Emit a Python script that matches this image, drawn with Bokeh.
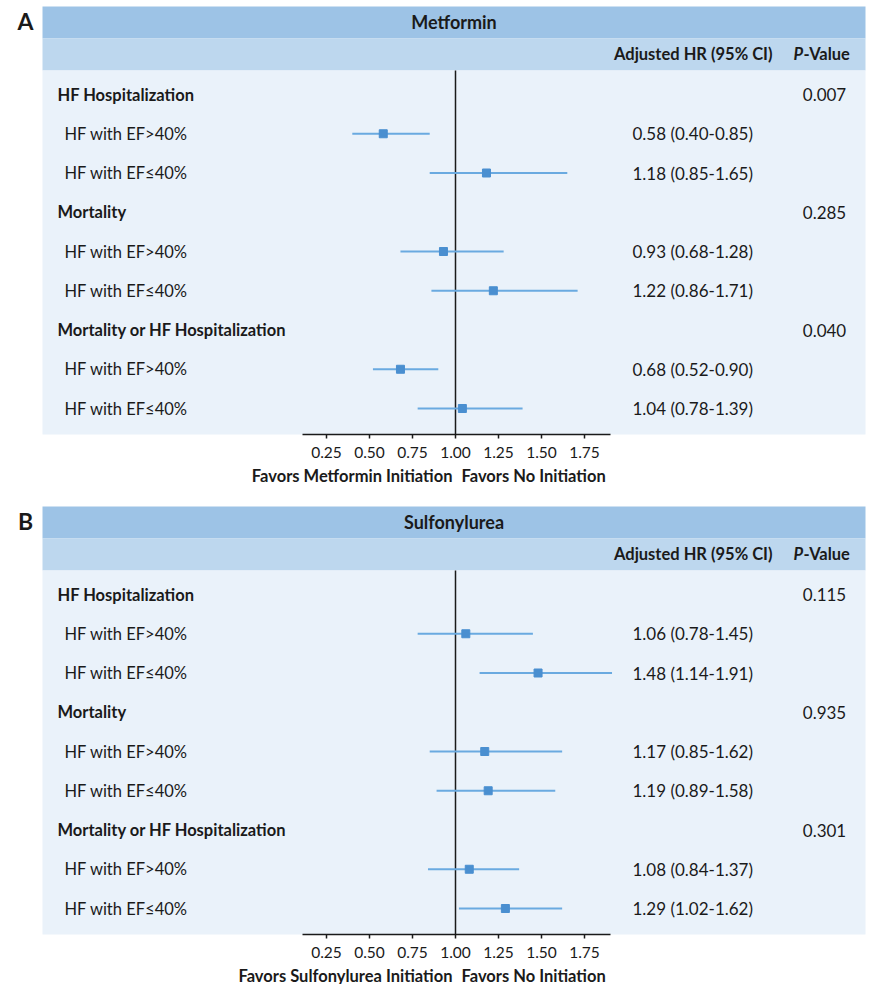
from bokeh.plotting import figure
from bokeh.models import Range1d, FixedTicker
from bokeh.layouts import column
from bokeh.embed import file_html
from bokeh.resources import INLINE
from bokeh.core.properties import value

# ---------------- data ----------------
outcomes = ["HF Hospitalization", "Mortality", "Mortality or HF Hospitalization"]
subgroups = ["HF with EF>40%", "HF with EF\u226440%"]

met_hr = [0.58, 1.18, 0.93, 1.22, 0.68, 1.04]
met_lo = [0.40, 0.85, 0.68, 0.86, 0.52, 0.78]
met_hi = [0.85, 1.65, 1.28, 1.71, 0.90, 1.39]
met_p = ["0.007", "0.285", "0.040"]

sul_hr = [1.06, 1.48, 1.17, 1.19, 1.08, 1.29]
sul_lo = [0.78, 1.14, 0.85, 0.89, 0.84, 1.02]
sul_hi = [1.45, 1.91, 1.62, 1.58, 1.37, 1.62]
sul_p = ["0.115", "0.935", "0.301"]

tick_values = [0.25, 0.50, 0.75, 1.00, 1.25, 1.50, 1.75]
tick_labels = ["0.25", "0.50", "0.75", "1.00", "1.25", "1.50", "1.75"]
null_hr = 1.0
axis_bounds = (0.11, 1.90)

# ---------------- style / layout ----------------
FONT = "Lato"
TXT = "#1a1a1a"
C_TITLE = "#9dc3e6"
C_SUB = "#bdd7ee"
C_BODY = "#eaf2fa"
C_MARK = "#4a8fd0"
C_CI = "#6aaae0"

FIG_W = 872
PX_LEFT, PX_RIGHT = 0, 872
ONE_PX = 455.0                      # page x of HR=1
PX_PER_UNIT = 172.0
ROW_STEP = 39.25
BAND_L, BAND_R = 42, 865


def hr_at(px):
    return (px - ONE_PX) / PX_PER_UNIT + 1.0


def txt(p, x, y, text, size, style="normal", align="left", py=False):
    kw = dict(x_range_name="px", text_font=value(FONT), text_font_style=style,
              text_font_size=size, text_align=align, text_baseline="middle",
              text_color=TXT)
    if py:
        kw["y_range_name"] = "py"
    p.text(x=x, y=y, text=text, **kw)


def make_panel(letter, drug, hr, lo, hi, pvals, left_label, fig_top, fig_bottom, T):
    axis_y = T + 428
    row0 = T + 88
    height = fig_bottom - fig_top

    p = figure(width=FIG_W, height=height,
               x_range=Range1d(hr_at(PX_LEFT), hr_at(PX_RIGHT)),
               y_range=Range1d((fig_bottom - row0) / ROW_STEP, (fig_top - row0) / ROW_STEP),
               toolbar_location=None, output_backend="svg",
               y_axis_location=None, x_axis_location="below",
               min_border=0, outline_line_color=None,
               background_fill_color="white", border_fill_color="white")
    p.extra_x_ranges = {"px": Range1d(PX_LEFT, PX_RIGHT)}
    p.extra_y_ranges = {"py": Range1d(fig_bottom, fig_top)}
    p.xgrid.visible = False
    p.ygrid.visible = False

    # bands
    p.quad(left=[BAND_L] * 3, right=[BAND_R] * 3,
           top=[T, T + 32, T + 64],
           bottom=[T + 32, T + 64, axis_y],
           fill_color=[C_TITLE, C_SUB, C_BODY], line_color=None,
           x_range_name="px", y_range_name="py")

    # letter + titles
    txt(p, [25], [T + 14], [letter], "23px", "bold", "center", py=True)
    txt(p, [(BAND_L + BAND_R) / 2], [T + 15], [drug], "18px", "bold", "center", py=True)
    txt(p, [772], [T + 47], ["Adjusted HR (95% CI)"], "16.5px", "bold", "right", py=True)
    txt(p, [793], [T + 47], ["P"], "16.5px", "bold italic", "left", py=True)
    txt(p, [803], [T + 47], ["-Value"], "16.5px", "bold", "left", py=True)

    # row layout
    head_y, sub_y, sub_lab = [], [], []
    r = 0
    for o in outcomes:
        head_y.append(r)
        r += 1
        for s in subgroups:
            sub_y.append(r)
            sub_lab.append(s)
            r += 1

    # reference line
    p.segment(x0=[null_hr], y0=[T + 64], x1=[null_hr], y1=[axis_y],
              y_range_name="py", line_color="#1a1a1a", line_width=1.5)

    # CI + markers
    p.segment(x0=lo, y0=sub_y, x1=hi, y1=sub_y, line_color=C_CI, line_width=2)
    p.scatter(x=hr, y=sub_y, marker="square", size=8, fill_color=C_MARK,
              line_color=C_MARK)

    # texts
    txt(p, [57] * len(head_y), head_y, outcomes, "16.5px", "bold")
    txt(p, [64] * len(sub_y), sub_y, sub_lab, "16.5px")
    hr_txt = ["%.2f (%.2f-%.2f)" % (a, b, c) for a, b, c in zip(hr, lo, hi)]
    txt(p, [632] * len(sub_y), sub_y, hr_txt, "17px")
    txt(p, [824] * len(head_y), head_y, pvals, "17px", align="center")

    # favors labels under the axis
    txt(p, [452], [axis_y + 41], [left_label], "16.5px", "bold", "right", py=True)
    txt(p, [461], [axis_y + 41], ["Favors No Initiation"], "16.5px", "bold", "left", py=True)

    # axis (drawn at the axis row inside the frame)
    ax = p.xaxis[0]
    ax.fixed_location = (axis_y - row0) / ROW_STEP
    ax.ticker = FixedTicker(ticks=tick_values)
    ax.major_label_overrides = {v: l for v, l in zip(tick_values, tick_labels)}
    ax.bounds = axis_bounds
    ax.axis_line_color = "#1a1a1a"
    ax.axis_line_width = 1.6
    ax.major_tick_line_color = "#1a1a1a"
    ax.major_tick_line_width = 1.5
    ax.major_tick_in = 0
    ax.major_tick_out = 4
    ax.minor_tick_line_color = None
    ax.major_label_standoff = 8
    ax.major_label_text_font = FONT
    ax.major_label_text_font_size = "15.5px"
    ax.major_label_text_color = TXT
    return p


pA = make_panel("A", "Metformin", met_hr, met_lo, met_hi, met_p,
                "Favors Metformin Initiation", 0, 484, 6)
pB = make_panel("B", "Sulfonylurea", sul_hr, sul_lo, sul_hi, sul_p,
                "Favors Sulfonylurea Initiation", 484, 984, 506)

layout = column(pA, pB, spacing=0)
open("out.html", "w").write(file_html(layout, INLINE))
